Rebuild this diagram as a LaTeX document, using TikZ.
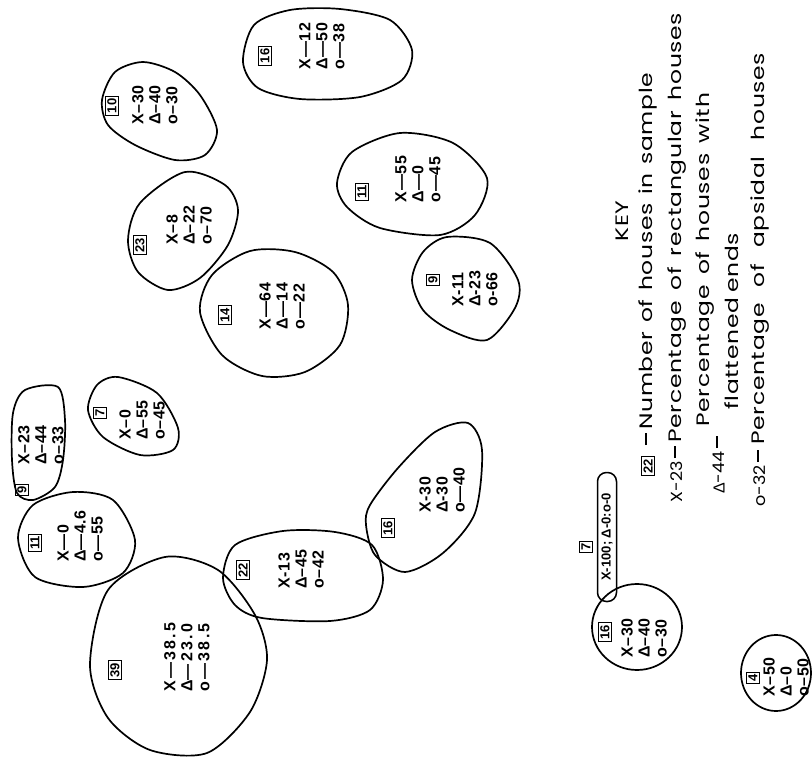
\documentclass[tikz,border=0pt]{standalone}
\usepackage{fontspec}
\setmainfont{Liberation Sans}
\newfontfamily\keyfont[LetterSpace=4, FakeStretch=1.3]{Poppins}
\newfontfamily\keylab[FakeStretch=1.1]{Poppins}
\newfontfamily\trifont{Liberation Sans}
\newcommand{\tri}{{\trifont Δ}}
\newcommand{\kdash}{\rule[4.3pt]{12pt}{1.4pt}}
\tikzset{
  blob/.style={line width=1.7pt, line join=round},
  vals/.style={rotate=90, align=left, inner sep=0pt, font=\bfseries\fontsize{16}{17}\selectfont\addfontfeatures{LetterSpace=4}},
  numbox/.style={rotate=90, draw, line width=1pt, inner sep=1.8pt, font=\bfseries\fontsize{13}{13}\selectfont},
  keytxt/.style={rotate=90, anchor=west, inner sep=0pt, font=\keyfont\fontsize{18}{18}\selectfont},
  keylabel/.style={rotate=90, anchor=east, inner sep=0pt, font=\keylab\fontsize{16}{16}\selectfont},
}
\begin{document}
\begin{tikzpicture}[x=1pt,y=-1pt]
\useasboundingbox (0,0) rectangle (812,762);

% blob outlines
\draw[blob] plot[smooth cycle] coordinates {(243,62) (254,25) (290,10) (340,9) (390,20) (412,50) (402,80) (360,97) (300,99) (258,88)};
\draw[blob] plot[smooth cycle] coordinates {(102,100) (115,72) (143,62) (175,72) (200,95) (217,130) (205,155) (175,160) (135,145) (108,125)};
\draw[blob] plot[smooth cycle] coordinates {(128,240) (140,203) (185,172) (225,185) (238,210) (228,245) (200,278) (168,290) (138,272)};
\draw[blob] plot[smooth cycle] coordinates {(200,312) (212,275) (250,251) (295,252) (333,272) (348,305) (340,345) (305,372) (262,376) (222,355)};
\draw[blob] plot[smooth cycle] coordinates {(337,183) (352,152) (400,133) (453,143) (487,178) (475,215) (440,235) (380,228) (347,207)};
\draw[blob] plot[smooth cycle] coordinates {(412,280) (423,252) (447,237) (490,243) (518,280) (515,308) (487,340) (450,330) (423,310)};
\draw[blob] plot[smooth cycle] coordinates {(366,525) (375,555) (405,572) (443,553) (475,513) (482,450) (468,423) (435,432) (398,468) (370,505)};
\draw[blob] plot[smooth cycle] coordinates {(223,578) (235,545) (283,531) (335,532) (372,545) (383,580) (370,610) (330,621) (262,618) (235,605)};
\draw[blob] plot[smooth cycle] coordinates {(90,665) (108,590) (165,557) (218,570) (255,615) (267,660) (250,712) (207,753) (150,750) (108,718)};
\draw[blob] plot[smooth cycle] coordinates {(18,538) (33,505) (73,492) (113,500) (135,540) (123,573) (83,587) (35,577)};
\draw[blob] plot[smooth cycle] coordinates {(13,413) (25,390) (58,387) (65,420) (63,460) (55,487) (33,500) (17,493) (12,460)};
\draw[blob] plot[smooth cycle] coordinates {(88,410) (97,385) (118,377) (157,393) (178,428) (173,450) (140,455) (103,437)};
\draw[blob] (637,627) ellipse [x radius=45, y radius=43];
\draw[blob] (776,673) ellipse [x radius=35, y radius=38];

% values and sample-size boxes
\node[numbox] (bA) at (265,56) {16};
\node[vals] (tA) at (322,46) {X—12\\\tri—50\\o—38};
\node[numbox] (bB) at (112,106) {10};
\node[vals] (tB) at (155,105) {X–30\\\tri–40\\o–30};
\node[numbox] (bC) at (140,245) {23};
\node[vals] (tC) at (189,225) {X–8\\\tri–22\\o–70};
\node[numbox] (bD) at (225,315) {14};
\node[vals] (tD) at (282,306) {X—64\\\tri—14\\o—22};
\node[numbox] (bE) at (362,192) {11};
\node[vals] (tE) at (418,179) {X—55\\\tri—0\\o—45};
\node[numbox] (bF) at (433,280) {9};
\node[vals] (tF) at (475,289) {X-11\\\tri-23\\o-66};
\node[numbox] (bG) at (388,528) {16};
\node[vals] (tG) at (442,490) {X-30\\\tri-30\\o—40};
\node[numbox] (bH) at (243,570) {22};
\node[vals] (tH) at (301,569) {X-13\\\tri–45\\o–42};
\node[numbox] (bI) at (115,670) {39};
\node[vals, font=\bfseries\fontsize{16}{17}\selectfont\addfontfeatures{LetterSpace=14}] (tI) at (187,657) {X—38.5\\\tri—23.0\\o—38.5};
\node[numbox] (bJ) at (35,543) {11};
\node[vals] (tJ) at (80,536) {X—0\\\tri—4.6\\o—55};
\node[numbox] (bK) at (22,490) {9};
\node[vals] (tK) at (41,445) {X–23\\\tri–44\\o–33};
\node[numbox] (bL) at (100,413) {7};
\node[vals] (tL) at (142,420) {X–0\\\tri–55\\o–45};
\node[numbox] (bM) at (605,632) {16};
\node[vals] (tM) at (644,638) {X–30\\\tri–40\\o–30};
\node[numbox] (bO) at (753,678) {4};
\node[vals] (tO) at (786,677) {X–50\\\tri–0\\o–50};
\node[numbox] (bP) at (586,547) {7};
\node[rotate=90, draw, line width=1.5pt, rounded corners=9pt, minimum width=129pt, minimum height=19pt, inner sep=0pt, font=\bfseries\fontsize{13}{13}\selectfont] (pill) at (607,537) {X-100; \tri-0:o-0};

% key
\node[keytxt, anchor=center] (key) at (622,221) {KEY};
\node[numbox] (k1b) at (648,466) {22};
\node[keylabel, anchor=center] (k1d) at (648,439) {\kdash};
\node[keytxt] (k1) at (648,430) {\makebox[357pt][s]{Number of houses in sample}};
\node[keylabel] (k2l) at (677,461) {X-23};
\node[keylabel, anchor=center] (k2d) at (677,452) {\kdash};
\node[keytxt] (k2) at (677,443) {\makebox[430pt][s]{Percentage of rectangular houses}};
\node[keytxt] (k3) at (705,427) {\makebox[334pt][s]{Percentage of houses with}};
\node[keylabel] (k3l) at (719,451) {\tri-44};
\node[keylabel, anchor=center] (k3d) at (719,442) {\kdash};
\node[keytxt] (k3b) at (732,410) {\makebox[177pt][s]{flattened ends}};
\node[keylabel] (k5l) at (760,465) {o-32};
\node[keylabel, anchor=center] (k5d) at (760,456) {\kdash};
\node[keytxt] (k5) at (760,445) {\makebox[392pt][s]{Percentage of apsidal houses}};
\end{tikzpicture}
\end{document}
